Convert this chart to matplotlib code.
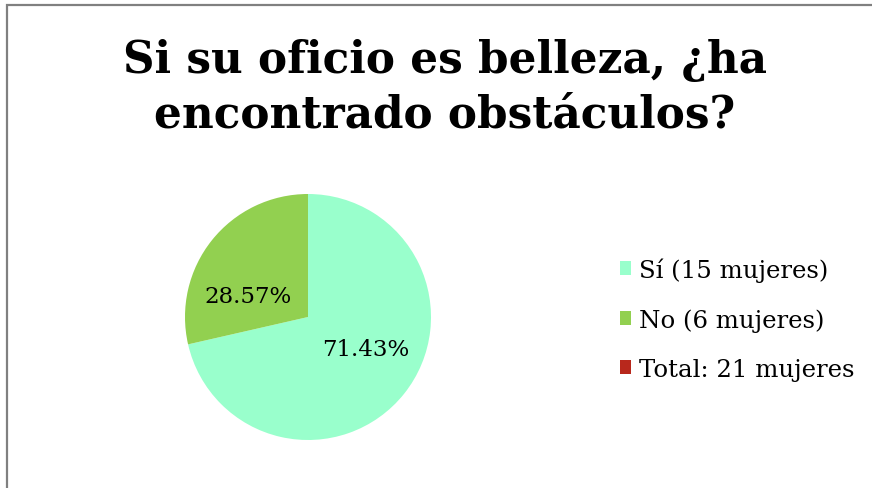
import matplotlib
matplotlib.use("Agg")
import matplotlib.pyplot as plt
from matplotlib.patches import Rectangle, Patch

# Data
title = "Si su oficio es belleza, ¿ha\nencontrado obstáculos?"
categories = ["Sí (15 mujeres)", "No (6 mujeres)"]
values = [15, 6]
total_label = "Total: 21 mujeres"
colors = ["#99FFCC", "#92D050"]
total_color = "#B8281C"

W, H = 872, 489
fig = plt.figure(figsize=(W / 100, H / 100), dpi=100)
fig.patch.set_facecolor("white")

# outer frame (top and left visible, right/bottom cut)
fig.patches.append(Rectangle((6.5 / W, -0.1), 1.2, (H - 5.5) / H + 0.1,
                             transform=fig.transFigure, fill=False,
                             edgecolor="#808080", linewidth=1.6))

fig.text(445 / W, 1 - 88 / H, title, ha="center", va="center",
         fontsize=31.5, fontweight="bold", family="DejaVu Serif",
         linespacing=1.33)

cx, cy, r = 308, 318, 123
ax = fig.add_axes([(cx - r) / W, (H - cy - r) / H, 2 * r / W, 2 * r / H])
wedges, texts, autotexts = ax.pie(
    values, colors=colors, startangle=90, counterclock=False,
    autopct="%.2f%%", pctdistance=0.53,
    wedgeprops=dict(linewidth=0),
    textprops=dict(fontsize=16.5, family="DejaVu Serif", color="black"))
# label placement similar to the original's best-fit positions
label_pos = [(0.47, -0.26), (-0.49, 0.17)]
for t, p in zip(autotexts, label_pos):
    t.set_position(p)
ax.set_xlim(-1, 1)
ax.set_ylim(-1, 1)
ax.set_aspect("equal")
ax.axis("off")

handles = list(wedges) + [Patch(facecolor=total_color, linewidth=0)]
labels = categories + [total_label]
leg = fig.legend(handles, labels, loc="center left",
                 bbox_to_anchor=(620 / W, 1 - 320 / H),
                 frameon=False, handlelength=0.47, handleheight=0.47,
                 handletextpad=0.3, labelspacing=1.08,
                 borderaxespad=0, borderpad=0,
                 prop=dict(family="DejaVu Serif", size=17.6))

fig.savefig("out.png", dpi=100)
